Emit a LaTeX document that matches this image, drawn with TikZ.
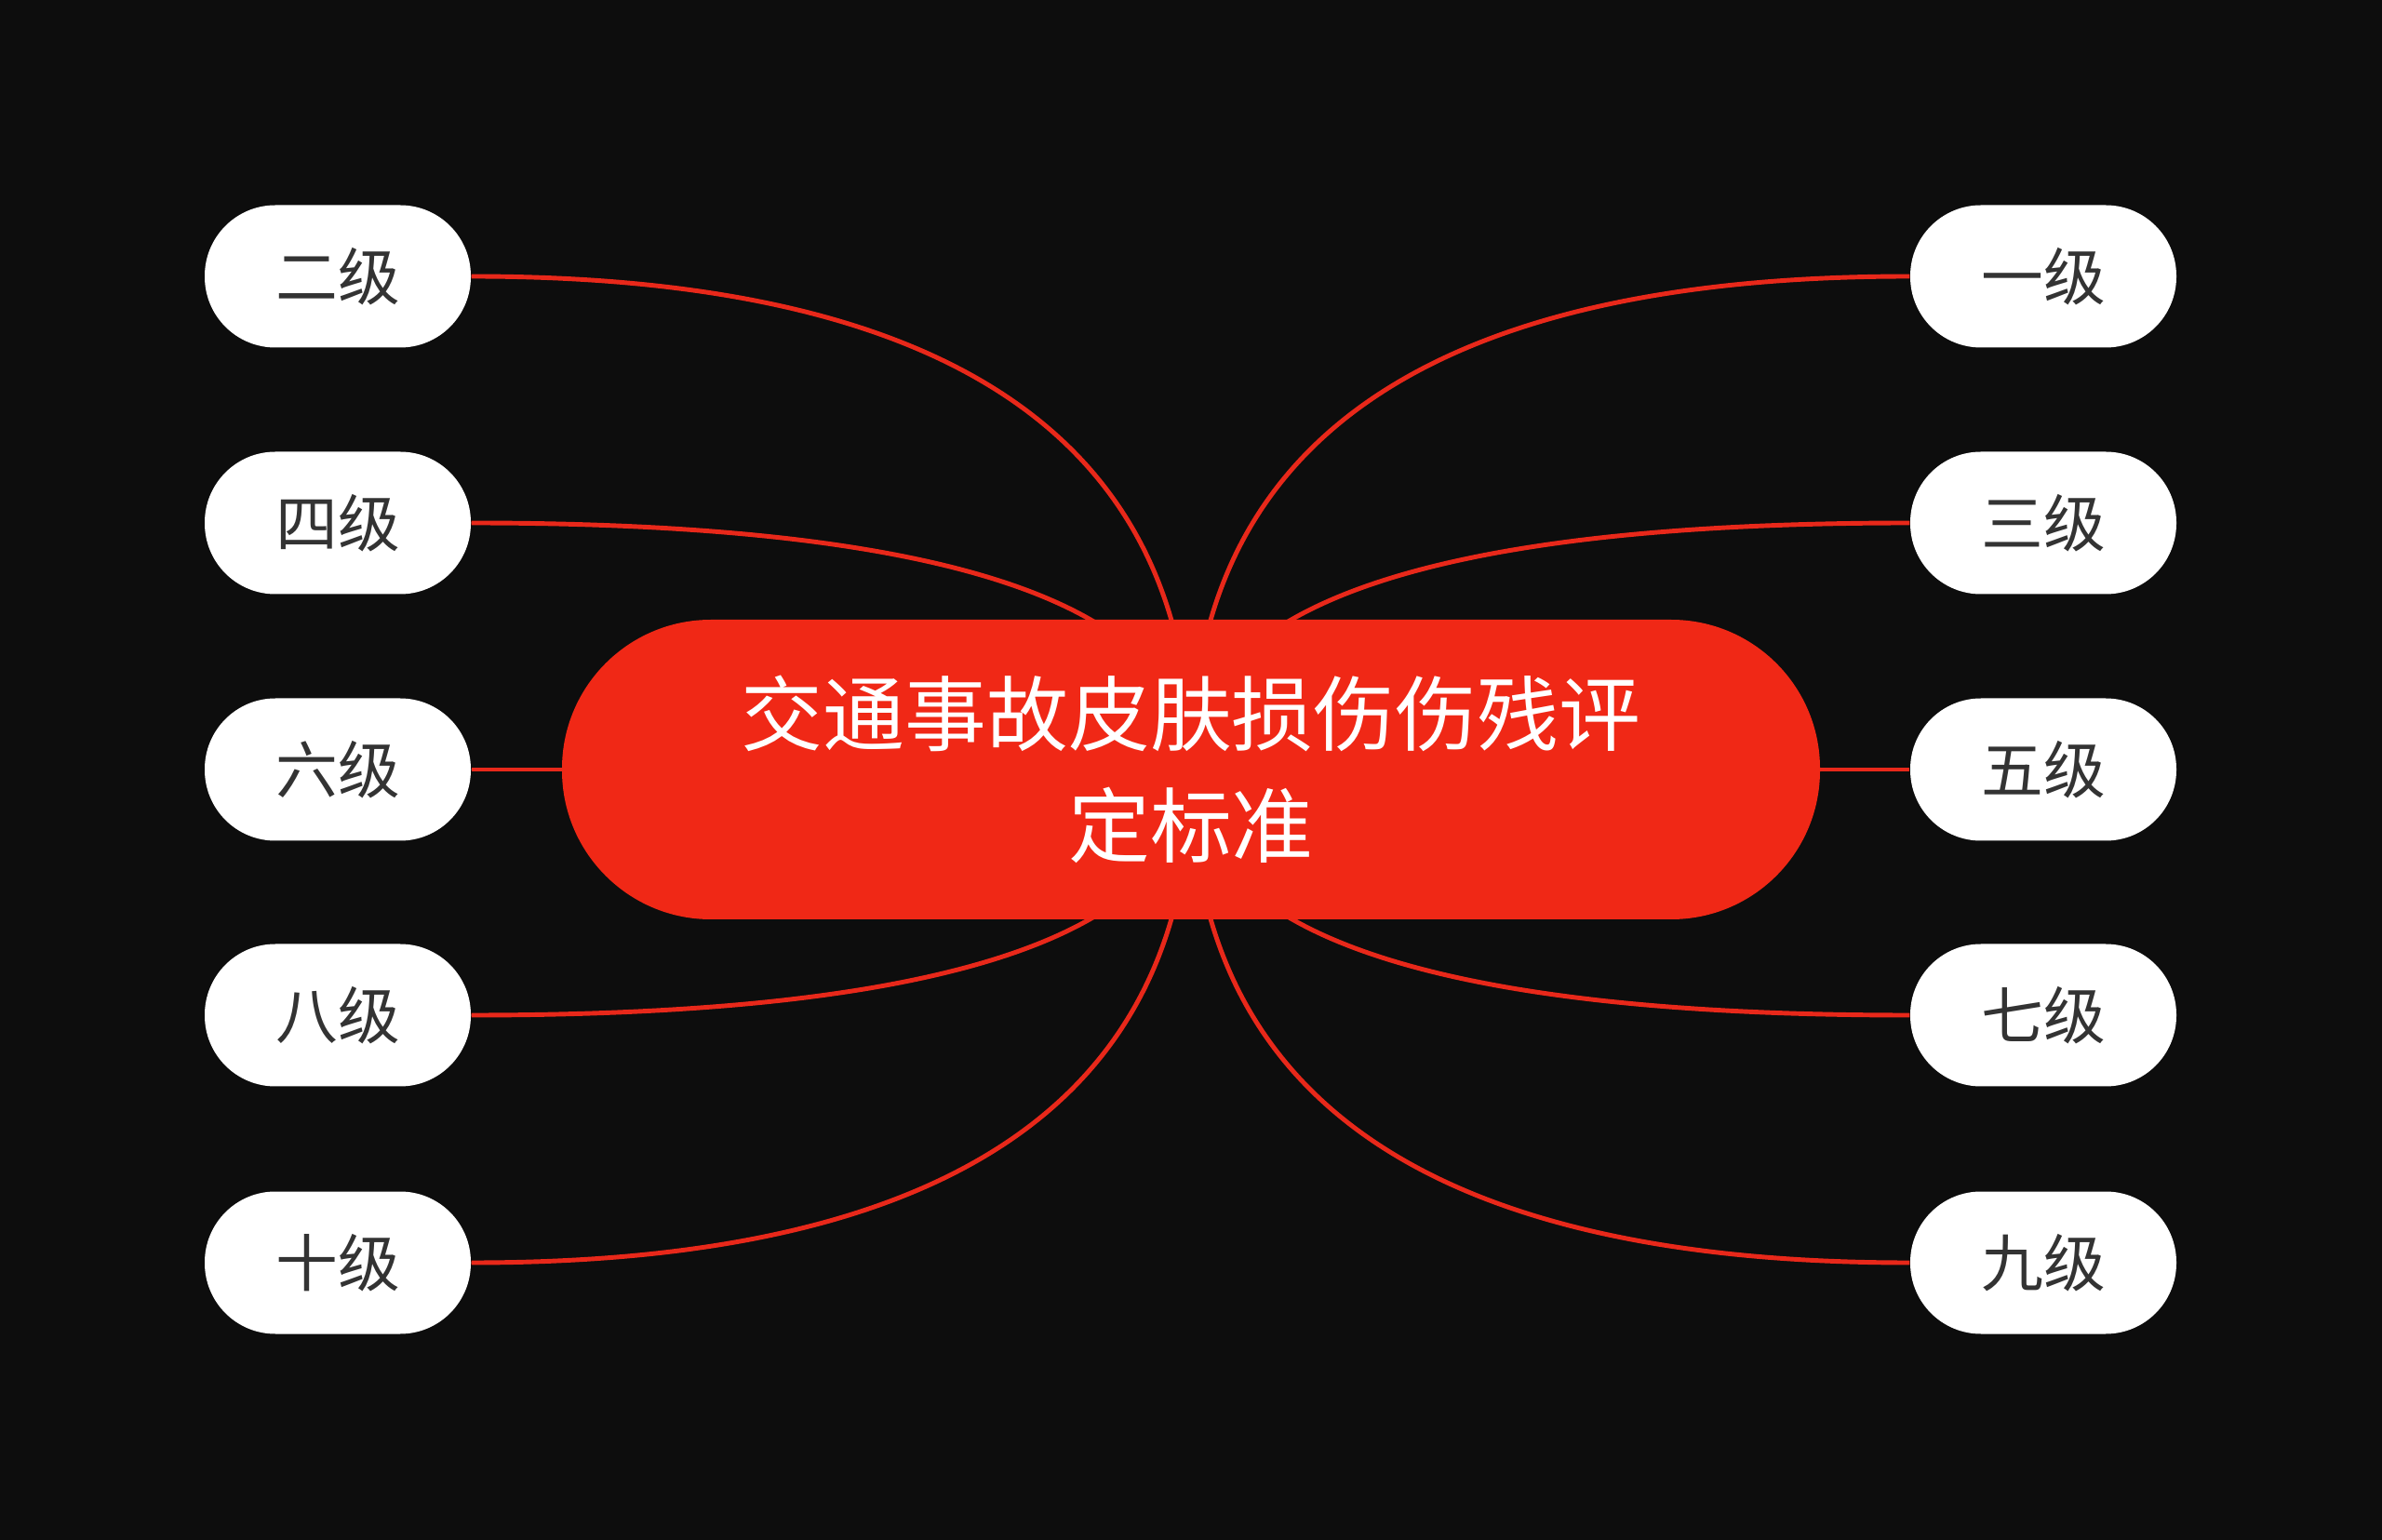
\documentclass[tikz,border=0pt]{standalone}
\usepackage{fontspec}
\newfontfamily\cjk{Noto Sans CJK SC}
\usetikzlibrary{calc}
\definecolor{bgdark}{HTML}{0D0D0D}
\definecolor{rootred}{HTML}{F02816}
\definecolor{edgered}{HTML}{E8281A}
\definecolor{leveltext}{HTML}{333333}
\pgfdeclarelayer{edges}
\pgfsetlayers{edges,main}

\begin{document}
\begin{tikzpicture}[
    root/.style={fill=rootred, rounded corners=1.6cm, minimum width=13.52cm, minimum height=3.22cm, inner sep=0pt, align=center, text=white, font=\cjk\fontsize{25}{34}\selectfont},
    level/.style={fill=white, rounded corners=0.76cm, minimum width=2.86cm, minimum height=1.53cm, inner sep=0pt, text=leveltext, font=\cjk\fontsize{19}{19}\selectfont},
    branch/.style={draw=edgered, line width=1.4pt}]

      \newcommand\LEFTX{3.63cm}
      \newcommand\RIGHTX{21.96cm}
      \newcommand\ROWA{-2.97cm}
      \newcommand\ROWB{-5.62cm}
      \newcommand\ROWC{-8.27cm}
      \newcommand\ROWD{-10.91cm}
      \newcommand\ROWE{-13.57cm}

      \useasboundingbox (0, 0) rectangle (25.6, -16.55);

      \node[root] (ROOT) at (12.80, \ROWC) {交通事故皮肤损伤伤残评\\定标准};

      \node[level] (L2) at (\LEFTX, \ROWA) {二级};
      \node[level] (L4) at (\LEFTX, \ROWB) {四级};
      \node[level] (L6) at (\LEFTX, \ROWC) {六级};
      \node[level] (L8) at (\LEFTX, \ROWD) {八级};
      \node[level] (L10) at (\LEFTX, \ROWE) {十级};

      \node[level] (R1) at (\RIGHTX, \ROWA) {一级};
      \node[level] (R3) at (\RIGHTX, \ROWB) {三级};
      \node[level] (R5) at (\RIGHTX, \ROWC) {五级};
      \node[level] (R7) at (\RIGHTX, \ROWD) {七级};
      \node[level] (R9) at (\RIGHTX, \ROWE) {九级};

      % branches sit under the nodes
      \begin{pgfonlayer}{edges}
      \fill[bgdark] (0, 0) rectangle (25.6, -16.55);

      \draw[branch] (ROOT.center) .. controls ($(ROOT.center)!2/3!(ROOT.center |- L2)$) and ($(L2.east)!2/3!(ROOT.center |- L2)$) .. (L2.east);
      \draw[branch] (ROOT.center) .. controls ($(ROOT.center)!2/3!(ROOT.center |- L4)$) and ($(L4.east)!2/3!(ROOT.center |- L4)$) .. (L4.east);
      \draw[branch] (ROOT.center) -- (L6.east);
      \draw[branch] (ROOT.center) .. controls ($(ROOT.center)!2/3!(ROOT.center |- L8)$) and ($(L8.east)!2/3!(ROOT.center |- L8)$) .. (L8.east);
      \draw[branch] (ROOT.center) .. controls ($(ROOT.center)!2/3!(ROOT.center |- L10)$) and ($(L10.east)!2/3!(ROOT.center |- L10)$) .. (L10.east);

      \draw[branch] (ROOT.center) .. controls ($(ROOT.center)!2/3!(ROOT.center |- R1)$) and ($(R1.west)!2/3!(ROOT.center |- R1)$) .. (R1.west);
      \draw[branch] (ROOT.center) .. controls ($(ROOT.center)!2/3!(ROOT.center |- R3)$) and ($(R3.west)!2/3!(ROOT.center |- R3)$) .. (R3.west);
      \draw[branch] (ROOT.center) -- (R5.west);
      \draw[branch] (ROOT.center) .. controls ($(ROOT.center)!2/3!(ROOT.center |- R7)$) and ($(R7.west)!2/3!(ROOT.center |- R7)$) .. (R7.west);
      \draw[branch] (ROOT.center) .. controls ($(ROOT.center)!2/3!(ROOT.center |- R9)$) and ($(R9.west)!2/3!(ROOT.center |- R9)$) .. (R9.west);
      \end{pgfonlayer}

    \end{tikzpicture}
\end{document}
